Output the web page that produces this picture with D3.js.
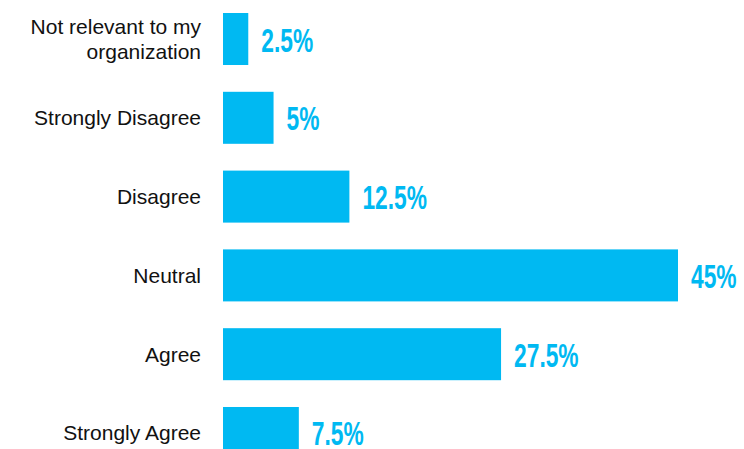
<!DOCTYPE html>
<html>
<head>
<meta charset="utf-8">
<script src="https://cdnjs.cloudflare.com/ajax/libs/d3/7.8.5/d3.min.js"></script>
<style>
  body { margin: 0; background: #fff; }
  svg { display: block; }
</style>
</head>
<body>
<svg id="svg" width="744" height="449"></svg>
<script>
// survey answers (share of respondents, %)
var categories = ["Not relevant to my organization", "Strongly Disagree", "Disagree", "Neutral", "Agree", "Strongly Agree"];
var labelLines = [["Not relevant to my", "organization"], ["Strongly Disagree"], ["Disagree"], ["Neutral"], ["Agree"], ["Strongly Agree"]];
var values = [2.5, 5, 12.5, 45, 27.5, 7.5];
var valueLabels = ["2.5%", "5%", "12.5%", "45%", "27.5%", "7.5%"];

var svg = d3.select("#svg"),
	barLeft = 223,		// where bars start
	textRight = 201,	// right edge of category text
	blue = "#00B9F2";

var x = d3.scaleLinear().domain([0, 45]).range([barLeft, barLeft + 455]);
var y = d3.scaleBand().domain(categories).range([13, 459]).paddingInner(0.34).paddingOuter(0);

// bars
svg.selectAll(".bar")
	.data(categories)
	.enter().append("rect")
	.attr("class", "bar")
	.attr("x", x(0))
	.attr("y", d => y(d))
	.attr("width", (d, i) => x(values[i]) - x(0))
	.attr("height", y.bandwidth())
	.style("fill", blue);

// category labels, right aligned, may wrap on two lines
var cat = svg.selectAll(".cat")
	.data(categories)
	.enter().append("text")
	.attr("class", "cat")
	.attr("text-anchor", "end")
	.style("font-family", "Liberation Sans, Arial, sans-serif")
	.style("font-size", "21px")
	.style("fill", "#111");

cat.each(function(d, i) {
	var lines = labelLines[i];
	var mid = y(d) + y.bandwidth() / 2;
	var lh = 25;
	var first = mid + 7.5 - (lines.length - 1) * lh / 2;
	d3.select(this).selectAll("tspan")
		.data(lines)
		.enter().append("tspan")
		.attr("x", textRight)
		.attr("y", (l, j) => first + j * lh)
		.text(l => l);
});

// value labels (condensed look via horizontal squeeze)
svg.selectAll(".val")
	.data(categories)
	.enter().append("text")
	.attr("class", "val")
	.attr("transform", (d, i) => "translate(" + (x(values[i]) + 13) + "," + (y(d) + y.bandwidth() / 2 + 12.5) + ") scale(0.69,1)")
	.style("font-family", "Liberation Sans, Arial, sans-serif")
	.style("font-weight", "bold")
	.style("font-size", "33px")
	.style("fill", blue)
	.text((d, i) => valueLabels[i]);
</script>
</body>
</html>
